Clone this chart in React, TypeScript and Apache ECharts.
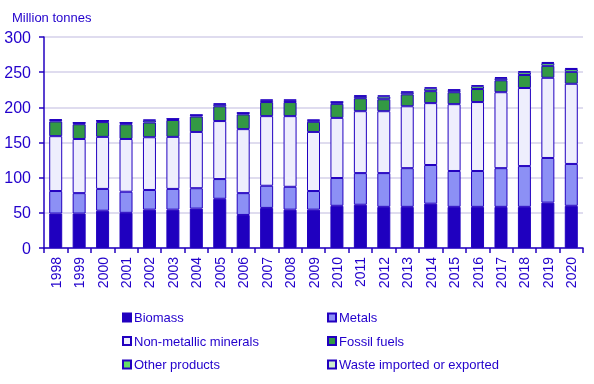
import React, { useEffect, useRef } from "react";
import * as echarts from "echarts";

const years = ["1998","1999","2000","2001","2002","2003","2004","2005","2006","2007","2008","2009","2010","2011","2012","2013","2014","2015","2016","2017","2018","2019","2020"];
const biomass = [49, 49, 53, 50, 54.5, 54.5, 56, 70, 47, 57, 54.5, 54.5, 60, 61.5, 58.5, 58.5, 63, 58.5, 58.5, 58.5, 58.5, 64.5, 60];
const metals = [32, 29, 31, 30, 28, 29.5, 29, 28, 31, 31.5, 32.5, 26.5, 39.5, 45, 48, 55, 55, 51, 51, 55, 58, 63.5, 59.5];
const nonMetallic = [78, 77, 74, 75, 75, 74, 80, 82.5, 91, 99, 100.5, 84, 85.5, 88, 88, 88, 88, 95, 98, 108, 111, 114, 114];
const fossil = [21, 21, 21, 21, 21, 24, 22, 21, 21, 20, 20, 14.5, 20, 18.5, 17, 17, 17, 17, 18.5, 17, 18.5, 17, 17];
const otherProducts = [2, 2, 2, 2, 3, 1.5, 2, 3, 2, 2.5, 2.5, 2, 2.5, 3, 4, 3, 4, 3, 4, 3, 4, 4, 4];
const waste = [1, 0.5, 0.5, 0.5, 1, 0.5, 0.5, 1, 0.5, 1, 1, 1, 0.5, 1, 1.5, 1, 1.5, 1, 1.5, 1.5, 1.5, 1.5, 1.5];
const yTicks = [0, 50, 100, 150, 200, 250, 300];

const seriesDefs = [
  { name: "Biomass", data: biomass, color: "#1f00bf" },
  { name: "Metals", data: metals, color: "#8c90f5" },
  { name: "Non-metallic minerals", data: nonMetallic, color: "#eeeefd" },
  { name: "Fossil fuels", data: fossil, color: "#339944" },
  { name: "Other products", data: otherProducts, color: "#66dd66" },
  { name: "Waste imported or exported", data: waste, color: "#cceecc" },
];

const TEXT = "#2200cc";
const AXIS = "#2200c0";
const FONT = "'Liberation Sans', Arial, sans-serif";

export default function App() {
  const ref = useRef<HTMLDivElement>(null);
  useEffect(() => {
    if (!ref.current) return;
    const chart = echarts.init(ref.current, undefined, { renderer: "svg" });
    const legendCommon = {
      orient: "vertical",
      itemWidth: 8,
      itemHeight: 8,
      itemGap: 8.5,
      top: 310,
      padding: 0,
      icon: "rect",
      selectedMode: false,
      textStyle: { color: TEXT, fontSize: 13, fontFamily: FONT, lineHeight: 15, padding: [0, 0, 0, -2] },
    };
    chart.setOption({
      animation: false,
      textStyle: { fontFamily: FONT },
      title: {
        text: "Million tonnes",
        left: 7,
        top: 6,
        textStyle: { color: TEXT, fontSize: 13, fontWeight: "normal", fontFamily: FONT },
      },
      grid: { left: 44, right: 11, top: 37, bottom: 136, containLabel: false },
      legend: [
        { ...legendCommon, left: 122, data: ["Biomass", "Non-metallic minerals", "Other products"] },
        { ...legendCommon, left: 327, data: ["Metals", "Fossil fuels", "Waste imported or exported"] },
      ],
      xAxis: {
        type: "category",
        data: years,
        axisLine: { show: true, lineStyle: { color: AXIS, width: 1.5 } },
        axisTick: { show: true, length: 5, lineStyle: { color: AXIS, width: 1.5 } },
        axisLabel: { rotate: 90, color: TEXT, fontSize: 14, margin: 9, fontFamily: FONT },
      },
      yAxis: {
        type: "value",
        min: 0,
        max: 300,
        interval: 50,
        axisLine: { show: true, lineStyle: { color: AXIS, width: 1.5 } },
        axisTick: { show: true, length: 5, lineStyle: { color: AXIS, width: 1.5 } },
        axisLabel: {
          color: TEXT,
          fontSize: 16,
          margin: 13,
          fontFamily: FONT,
          formatter: (v: number) => (yTicks.includes(v) ? String(v) : ""),
        },
        splitLine: { lineStyle: { color: "#d4d0ea", width: 1.5 } },
      },
      series: seriesDefs.map((s) => ({
        name: s.name,
        type: "bar",
        stack: "total",
        data: s.data,
        barWidth: 13,
        itemStyle: { color: s.color, borderColor: AXIS, borderWidth: 1 },
        emphasis: { disabled: true },
      })),
    });
    return () => chart.dispose();
  }, []);
  return (
    <div style={{ position: "fixed", left: 0, top: 0, width: 594, height: 384 }}>
      <div ref={ref} style={{ width: 594, height: 384 }} />
    </div>
  );
}
